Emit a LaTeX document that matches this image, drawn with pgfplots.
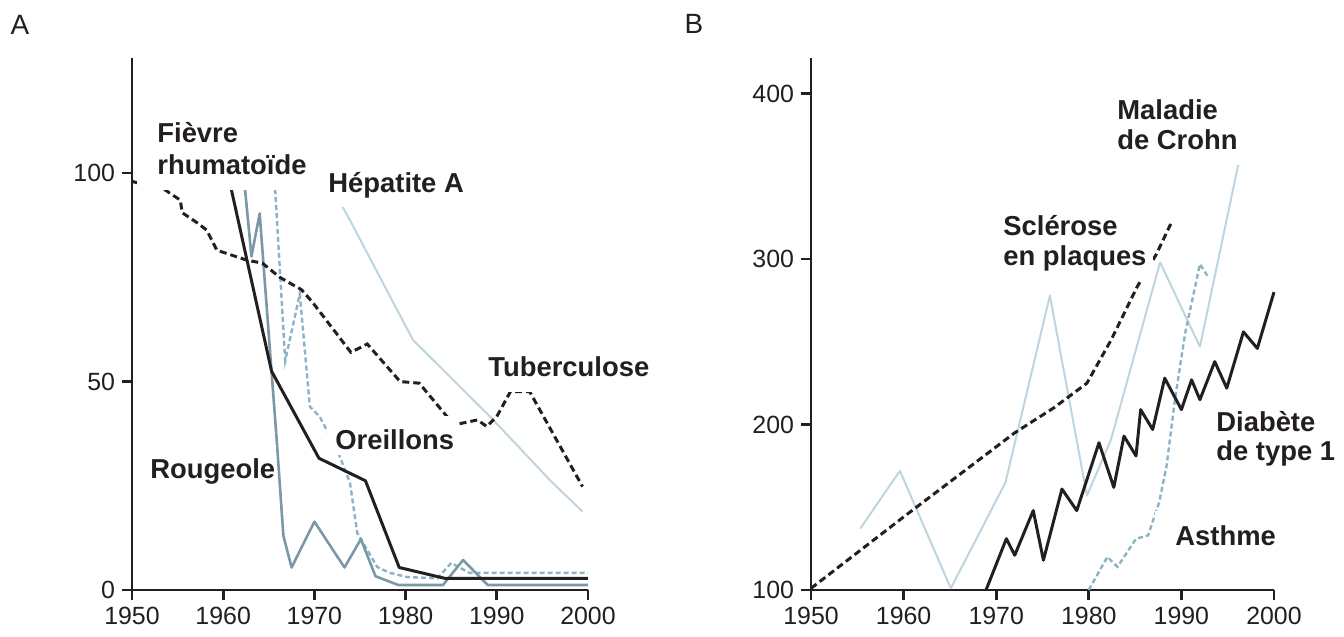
\documentclass[border=0pt]{standalone}
\usepackage{fontspec}
\setmainfont{Liberation Sans}
\usepackage{pgfplots}
\pgfplotsset{compat=1.18}

\definecolor{cblk}{RGB}{35,31,32}
\definecolor{cgray}{RGB}{122,152,165}
\definecolor{clblue}{RGB}{140,178,198}
\definecolor{cpale}{RGB}{190,212,222}

\pgfplotsset{
  panel/.style={
    anchor=south west, scale only axis,
    height=266bp,
    xmin=1950, xmax=2000,
    axis x line*=bottom, axis y line*=left,
    x axis line style={-}, y axis line style={-},
    axis line style={line width=1.4pt, draw=cblk},
    xtick={1950,1960,...,2000},
    tick align=outside, major tick length=5bp,
    tick style={line width=1.4pt, draw=cblk},
    ticklabel style={font=\fontsize{12.5}{12.5}\selectfont, text=cblk},
    /pgf/number format/1000 sep={},
    /pgf/number format/assume math mode=true,
    clip=false,
  },
  blacksolid/.style={draw=cblk, line width=1.5pt, line join=round},
  blackdash/.style={draw=cblk, line width=1.5pt, dash pattern=on 3.5bp off 2bp},
  graysolid/.style={draw=cgray, line width=1.3pt, line join=round},
  bluedash/.style={draw=clblue, line width=1.2pt, dash pattern=on 2.5bp off 1.5bp},
  palesolid/.style={draw=cpale, line width=1pt, line join=round},
}

\begin{document}
\begin{tikzpicture}
\useasboundingbox (0,0) rectangle (672bp,318.5bp);

% ---------------- panel A
\begin{axis}[panel, at={(66bp,23.5bp)}, width=228bp,
  ymin=0, ymax=127.6, ytick={0,50,100}]
% Hepatite A
\addplot[palesolid] coordinates {
  (1971.8,97) (1973.9,88.7) (1980.8,60) (1989.3,41.5) (1995.8,26.4) (1999.4,18.8)
};
% Oreillons
\addplot[bluedash] coordinates {
  (1965.6,100) (1965.7,96) (1966.8,55) (1968.4,71) (1969.5,44) (1970.6,41.5)
  (1972.5,33.6) (1973.9,25.7) (1974.7,13.7) (1976.9,5.5) (1978.3,4.1)
  (1980.2,3.1) (1983.5,2.8) (1985,6.5) (1987,4.1) (2000,4.1)
};
% Rougeole
\addplot[graysolid] coordinates {
  (1962.3,100) (1962.4,96) (1963.1,80) (1964,90.3) (1965.9,35) (1966.6,13)
  (1967.5,5.4) (1970,16.4) (1973.3,5.4) (1975.1,12.2) (1976.7,3.3)
  (1979.2,1.2) (1984.1,1.2) (1986.3,7.2) (1989,1.2) (2000,1.2)
};
% Tuberculose
\addplot[blackdash] coordinates {
  (1950,98) (1953.6,96) (1955.3,93.5) (1955.5,90.5) (1957.2,88) (1958.2,86.3)
  (1959.3,81.5) (1962.6,79.1) (1964.3,78.4) (1966.2,75) (1968.6,72)
  (1969.8,69) (1974,57) (1975.8,59) (1979.4,50) (1981.5,49.6) (1985.3,39.6)
  (1987.9,40.8) (1988.9,39.2) (1990,41.6) (1991.5,47.6) (1993.6,47.6)
  (1999.4,24.8)
};
% Fievre rhumatoide
\addplot[blacksolid] coordinates {
  (1960.5,100) (1960.9,96) (1965.3,52.5) (1970.5,31.6) (1975.6,26.2)
  (1979.3,5.4) (1984.3,2.8) (2000,2.8)
};
\end{axis}

% ---------------- panel B
\begin{axis}[panel, at={(405.5bp,23.5bp)}, width=231.5bp,
  ymin=100, ymax=421.5, ytick={100,200,300,400}]
% Maladie de Crohn
\addplot[palesolid] coordinates {
  (1955.3,137) (1959.6,172) (1965.1,101) (1971,165) (1975.8,278)
  (1979.8,157) (1982.4,191) (1987.7,298) (1992,247) (1996.1,356) (1997,372)
};
% Asthme
\addplot[bluedash] coordinates {
  (1980,100) (1982,120) (1983.1,114) (1985.1,131) (1986.4,133) (1987.6,153)
  (1988.4,175) (1989.3,215) (1990.4,255) (1992,297) (1992.9,289)
};
% Sclerose en plaques
\addplot[blackdash] coordinates {
  (1950,101) (1960.2,145) (1972,195) (1976.2,210) (1979.8,225)
  (1982.4,251) (1985.2,283) (1987.3,303) (1989,323)
};
% Diabete de type 1
\addplot[blacksolid] coordinates {
  (1968.9,100) (1971.1,131) (1972,121) (1974,148) (1975.1,118) (1977.1,161)
  (1978.7,148) (1981.1,189) (1982.7,162) (1983.8,193) (1985.1,181)
  (1985.6,209) (1986.9,197) (1988.2,228) (1990,209) (1991.1,227) (1992,215)
  (1993.6,238) (1994.9,222) (1996.7,256) (1998.2,246) (2000,280)
};
\end{axis}

% ---------------- labels (pixel grid of the reference)
\begin{scope}[x=0.5bp, y=-0.5bp, shift={(0,318.5bp)},
  lab/.style={anchor=base west, inner sep=0pt,
    font=\fontsize{13.75}{16}\selectfont\bfseries, text=cblk}]
\node[anchor=center, font=\fontsize{14}{14}\selectfont, text=cblk] at (20,25) {A};
\node[anchor=center, font=\fontsize{14}{14}\selectfont, text=cblk] at (694,24) {B};

\fill[white] (137,110) rectangle (322,190);
\node[lab] at (157,143) {Fièvre};
\node[lab] at (157,175) {rhumatoïde};

\fill[white] (320,158) rectangle (480,207);
\node[lab] at (328,193) {Hépatite A};

\fill[white] (478,345) rectangle (662,392);
\node[lab] at (488,377) {Tuberculose};

\fill[white] (327,416) rectangle (457,455);
\node[lab] at (335,450) {Oreillons};

\fill[white] (143,445) rectangle (276,494);
\node[lab] at (150,479) {Rougeole};

\fill[white] (1112,72) rectangle (1257,165);
\node[lab] at (1117,120) {Maladie};
\node[lab] at (1117,150) {de Crohn};

\fill[white] (993,203) rectangle (1153,280);
\node[lab] at (1003,236) {Sclérose};
\node[lab] at (1003,266) {en plaques};

\fill[white] (1197,402) rectangle (1344,472);
\node[lab] at (1216,432) {Diabète};
\node[lab] at (1216,461) {de type 1};

\fill[white] (1155,511) rectangle (1290,560);
\node[lab] at (1175,546) {Asthme};
\end{scope}
\end{tikzpicture}
\end{document}
